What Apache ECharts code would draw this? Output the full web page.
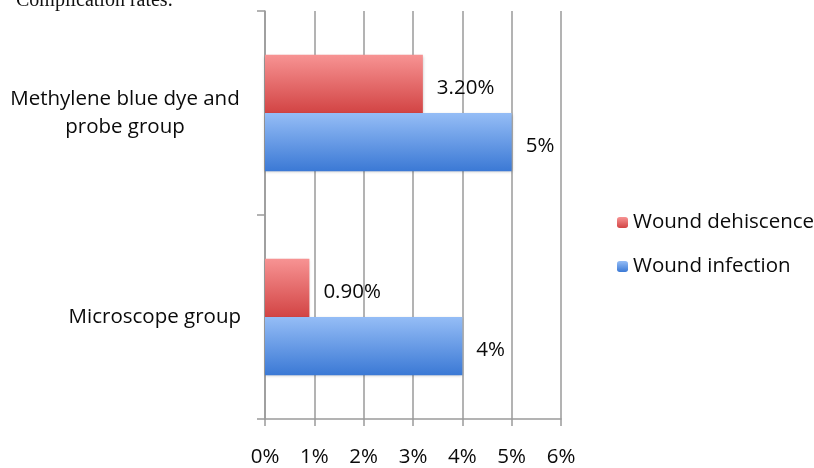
<!DOCTYPE html>
<html>
<head>
<meta charset="utf-8">
<script src="https://cdn.jsdelivr.net/npm/echarts@6/dist/echarts.min.js"></script>
<style>html,body{margin:0;padding:0;background:#fff;}#c{width:814px;height:468px;}</style>
</head>
<body>
<div id="c"></div>
<script>
var categories = ['Methylene blue dye and\nprobe group', 'Microscope group'];
var dehiscence = [3.2, 0.9];
var infection = [5, 4];
var xTicks = [0, 1, 2, 3, 4, 5, 6];

var chart = echarts.init(document.getElementById('c'), null, {renderer: 'canvas'});
var FONT = 'Open Sans';
var FS = 20.5;
function grad(top, bottom) {
  return new echarts.graphic.LinearGradient(0, 0, 0, 1, [{offset: 0, color: top}, {offset: 1, color: bottom}]);
}
var redGrad = grad('#f79393', '#d24444');
var blueGrad = grad('#95bdf6', '#3b79d5');
var option = {
  backgroundColor: '#fff',
  animation: false,
  title: {
    text: 'Complication rates.',
    left: 11, top: -14,
    textStyle: {fontFamily: 'Liberation Serif', fontSize: 20, fontWeight: 'normal', color: '#111'}
  },
  grid: {left: 265, right: 253, top: 11, bottom: 48, containLabel: false},
  legend: {
    orient: 'vertical', left: 612, top: 207,
    itemWidth: 11, itemHeight: 11, itemGap: 23,
    data: ['Wound dehiscence', 'Wound infection'],
    textStyle: {fontFamily: FONT, fontSize: FS, color: '#0a0a0a'}
  },
  xAxis: {
    type: 'value', min: xTicks[0], max: xTicks[xTicks.length - 1], interval: 1,
    axisLine: {show: true, lineStyle: {color: '#9a9a9a', width: 1.5}},
    axisTick: {show: true, length: 7, lineStyle: {color: '#9a9a9a', width: 1.5}},
    splitLine: {show: true, lineStyle: {color: '#9a9a9a', width: 1.5}},
    axisLabel: {formatter: '{value}%', margin: 28, fontFamily: FONT, fontSize: FS, color: '#0a0a0a'}
  },
  yAxis: {
    type: 'category', inverse: true, data: categories,
    axisLine: {show: true, lineStyle: {color: '#9a9a9a', width: 1.5}},
    axisTick: {show: true, length: 8, lineStyle: {color: '#9a9a9a', width: 1.5}},
    axisLabel: {
      margin: 24, align: 'right', fontFamily: FONT, fontSize: FS, color: '#0a0a0a', lineHeight: 28,
      formatter: function (v) {
        if (v.indexOf('\n') >= 0) {
          return v.split('\n').map(function (s) { return '{c|' + s + '}'; }).join('\n');
        }
        return v;
      },
      rich: {c: {width: 232, align: 'center', fontFamily: FONT, fontSize: FS, color: '#0a0a0a', lineHeight: 28}}
    }
  },
  series: [
    {
      name: 'Wound dehiscence', type: 'bar', data: dehiscence,
      barGap: '0%', barCategoryGap: '43%',
      itemStyle: {color: redGrad, shadowBlur: 3, shadowColor: 'rgba(0,0,0,0.25)', shadowOffsetY: 1},
      label: {show: true, position: 'right', distance: 14, offset: [0, 4],
        formatter: function (p) { return p.value.toFixed(2) + '%'; },
        fontFamily: FONT, fontSize: FS, color: '#0a0a0a'}
    },
    {
      name: 'Wound infection', type: 'bar', data: infection,
      barGap: '0%', barCategoryGap: '43%',
      itemStyle: {color: blueGrad, shadowBlur: 3, shadowColor: 'rgba(0,0,0,0.25)', shadowOffsetY: 1},
      label: {show: true, position: 'right', distance: 14, offset: [0, 4],
        formatter: function (p) { return p.value + '%'; },
        fontFamily: FONT, fontSize: FS, color: '#0a0a0a'}
    }
  ]
};
chart.setOption(option);
</script>
</body>
</html>
